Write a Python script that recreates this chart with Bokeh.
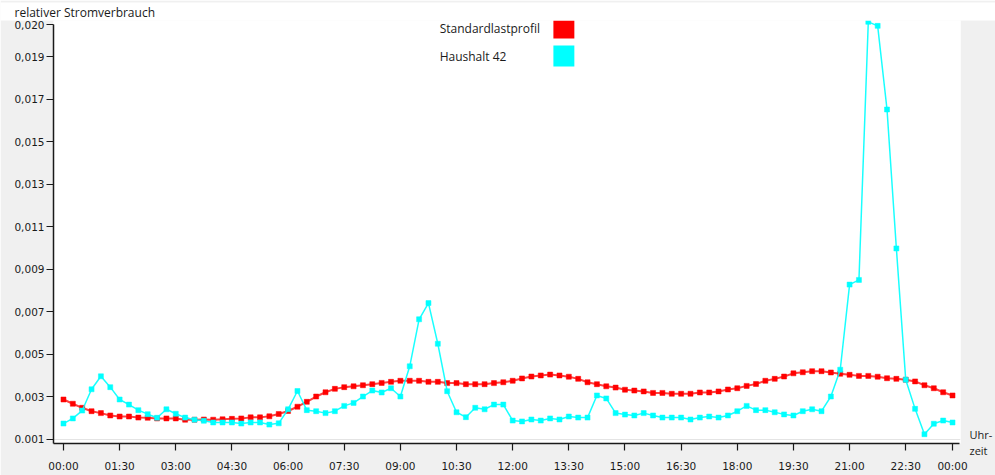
from bokeh.plotting import figure
from bokeh.models import (FixedTicker, BoxAnnotation, Label, Span, Range1d,
                          LinearAxis)
from bokeh.embed import file_html
from bokeh.resources import INLINE

# ---------------- data ----------------
hours = [i * 0.25 for i in range(96)]  # 15-minute slots, 00:00 .. 23:45

standardlastprofil = [
    0.00288, 0.00268, 0.00249, 0.00233, 0.00224, 0.00213, 0.00208, 0.00208,
    0.00203, 0.00202, 0.00199, 0.00199, 0.00199, 0.00193, 0.00193, 0.00194,
    0.00193, 0.00195, 0.00197, 0.00199, 0.00204, 0.00204, 0.00209, 0.00220,
    0.00234, 0.00254, 0.00277, 0.00302, 0.00322, 0.00338, 0.00346, 0.00350,
    0.00355, 0.00360, 0.00366, 0.00371, 0.00376, 0.00376, 0.00376, 0.00371,
    0.00371, 0.00365, 0.00365, 0.00360, 0.00360, 0.00360, 0.00365, 0.00369,
    0.00376, 0.00387, 0.00396, 0.00401, 0.00405, 0.00401, 0.00395, 0.00385,
    0.00369, 0.00360, 0.00350, 0.00344, 0.00334, 0.00330, 0.00326, 0.00319,
    0.00319, 0.00315, 0.00315, 0.00315, 0.00321, 0.00321, 0.00326, 0.00335,
    0.00341, 0.00352, 0.00361, 0.00376, 0.00385, 0.00396, 0.00411, 0.00416,
    0.00421, 0.00421, 0.00415, 0.00409, 0.00404, 0.00399, 0.00399, 0.00395,
    0.00388, 0.00385, 0.00381, 0.00373, 0.00355, 0.00341, 0.00322, 0.00307,
]

haushalt_42 = [
    0.00175, 0.00199, 0.00236, 0.00336, 0.00397, 0.00346, 0.00288, 0.00264,
    0.00238, 0.00219, 0.00202, 0.00242, 0.00221, 0.00203, 0.00193, 0.00188,
    0.00180, 0.00180, 0.00180, 0.00175, 0.00180, 0.00180, 0.00170, 0.00176,
    0.00242, 0.00328, 0.00238, 0.00233, 0.00224, 0.00233, 0.00258, 0.00272,
    0.00302, 0.00330, 0.00321, 0.00341, 0.00302, 0.00444, 0.00665, 0.00741,
    0.00550, 0.00327, 0.00228, 0.00205, 0.00249, 0.00242, 0.00264, 0.00264,
    0.00189, 0.00185, 0.00194, 0.00189, 0.00199, 0.00194, 0.00208, 0.00203,
    0.00203, 0.00307, 0.00293, 0.00224, 0.00217, 0.00213, 0.00224, 0.00213,
    0.00203, 0.00203, 0.00203, 0.00194, 0.00203, 0.00208, 0.00203, 0.00213,
    0.00233, 0.00258, 0.00238, 0.00238, 0.00228, 0.00218, 0.00213, 0.00233,
    0.00242, 0.00233, 0.00302, 0.00428, 0.00828, 0.00850, 0.02063, 0.02044,
    0.01651, 0.00998, 0.00381, 0.00244, 0.00125, 0.00174, 0.00189, 0.00180,
]

series_names = ["Standardlastprofil", "Haushalt 42"]
series_colors = ["#ff0000", "#00ffff"]

x_tick_hours = [0, 1.5, 3, 4.5, 6, 7.5, 9, 10.5, 12, 13.5, 15, 16.5, 18, 19.5,
                21, 22.5, 23.75]
x_tick_labels = ["00:00", "01:30", "03:00", "04:30", "06:00", "07:30", "09:00",
                 "10:30", "12:00", "13:30", "15:00", "16:30", "18:00", "19:30",
                 "21:00", "22:30", "00:00"]

y_tick_values = [0.001, 0.003, 0.005, 0.007, 0.009, 0.011, 0.013, 0.015,
                 0.017, 0.019, 0.0205]
y_tick_labels = ["0.001", "0,003", "0,005", "0,007", "0,009", "0,011",
                 "0,013", "0,015", "0,017", "0,019", "0,020"]

y_title = "relativer Stromverbrauch"
x_title = "Uhr-\nzeit"
x_title_at = 0.00086  # level at the bottom edge where the x title sits

# ---------------- layout (page pixels) ----------------
W, H = 995, 475
FL, FR, FT, FB = 53, 962, 20, 443          # frame edges on the page
X_LO, X_HI = -0.26655, 23.963
Y_LO, Y_HI = 0.000812, 0.020692


def xd(px):
    return X_LO + (px - FL) / (FR - FL) * (X_HI - X_LO)


def yd(py):
    return Y_HI - (py - FT) / (FB - FT) * (Y_HI - Y_LO)


TEXT = "#1a1a1a"
GRAY = "#f0f0f0"
FONT = "Open Sans"
TICK_FONT = "DejaVu Sans"

p = figure(width=W, height=H, output_backend="svg", toolbar_location=None,
           x_range=Range1d(X_LO, X_HI), y_range=Range1d(Y_LO, Y_HI),
           min_border_left=FL, min_border_right=W - FR,
           min_border_top=FT, min_border_bottom=H - FB)
p.outline_line_color = None
p.background_fill_color = "white"
p.border_fill_color = "white"
p.xgrid.visible = False
p.ygrid.visible = False

p.add_layout(Span(location=0.001, dimension="width", line_color="#e4e4e4",
                  line_width=1, level="underlay"))

# title (top left); with padding support its white box masks the top strip
p.title.text = y_title
p.title.align = "left"
p.title.standoff = 0
p.title.text_font = FONT
p.title.text_font_size = "12px"
p.title.text_font_style = "normal"
p.title.text_color = TEXT
if hasattr(p.title, "padding"):
    p.border_fill_color = GRAY
    p.title.offset = -FL
    p.title.padding = dict(left=14, right=W - 150, top=1, bottom=0)
    p.title.background_fill_color = "white"
    p.title.background_fill_alpha = 1.0
else:
    p.title.offset = 14 - FL

# axes
axes = (p.xaxis[0], p.yaxis[0])
for ax in axes:
    ax.axis_line_color = TEXT
    ax.axis_line_width = 1.5
    ax.major_tick_line_color = TEXT
    ax.major_tick_line_width = 1.2
    ax.major_tick_out = 7
    ax.major_tick_in = 0
    ax.minor_tick_out = 0
    ax.minor_tick_in = 0
    ax.major_label_text_font = TICK_FONT
    ax.major_label_text_font_size = "10.5px"
    ax.major_label_text_color = TEXT

p.xaxis.ticker = FixedTicker(ticks=x_tick_hours)
p.xaxis.major_label_overrides = dict(zip(x_tick_hours, x_tick_labels))
p.xaxis.major_label_standoff = 9
p.xaxis.bounds = (X_LO, xd(961))

p.yaxis.ticker = FixedTicker(ticks=y_tick_values)
p.yaxis.major_label_overrides = dict(zip(y_tick_values, y_tick_labels))
p.yaxis.major_label_standoff = 2
p.yaxis.bounds = (Y_LO, 0.0205)

# x title at the right end of the time axis
rax = LinearAxis(ticker=FixedTicker(ticks=[x_title_at]),
                 major_label_overrides={x_title_at: x_title},
                 axis_line_color=None, major_tick_line_color=None,
                 minor_tick_line_color=None, major_tick_out=0, major_tick_in=0,
                 minor_tick_out=0, minor_tick_in=0, major_label_standoff=9,
                 major_label_text_font=FONT, major_label_text_font_size="11px",
                 major_label_text_color=TEXT,
                 major_label_text_line_height=1.1)
p.add_layout(rax, "right")

# series
for vals, col, lw, la in ((standardlastprofil, series_colors[0], 2.0, 0.75),
                          (haushalt_42, series_colors[1], 1.5, 0.9)):
    p.line(hours, vals, line_color=col, line_width=lw, line_alpha=la)
    p.scatter(hours, vals, marker="square", size=5, fill_color=col,
              line_color=col, line_width=0.5)

# legend (text left, swatch right)
for name, col, cy in ((series_names[0], series_colors[0], 27.5),
                      (series_names[1], series_colors[1], 55.5)):
    p.add_layout(Label(x=xd(440), y=yd(cy), text=name, text_align="left",
                       text_baseline="middle", text_font=FONT,
                       text_font_size="12px", text_color=TEXT))
    p.add_layout(BoxAnnotation(left=xd(554), right=xd(575), top=yd(cy - 10.5),
                               bottom=yd(cy + 10.5), fill_color=col,
                               fill_alpha=1, line_alpha=0))

open("out.html", "w").write(file_html(p, INLINE))
